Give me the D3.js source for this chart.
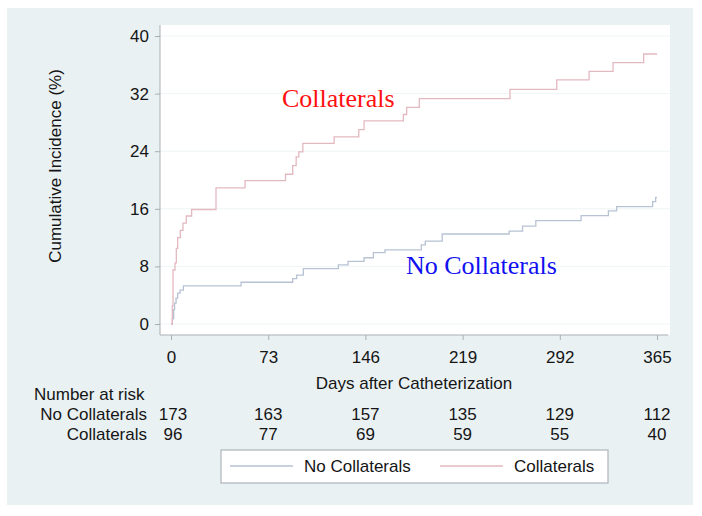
<!DOCTYPE html>
<html>
<head>
<meta charset="utf-8">
<script src="https://cdn.jsdelivr.net/npm/d3@7"></script>
<style>
  html, body { margin: 0; padding: 0; background: #ffffff; }
  svg { display: block; }
  text { font-family: "Liberation Sans", Arial, Helvetica, sans-serif; fill: #151515; }
</style>
</head>
<body>
<svg id="chart" width="702" height="516"></svg>
<script>
// ---- data ----
const xTicks = [0, 73, 146, 219, 292, 365];
const yTicks = [0, 8, 16, 24, 32, 40];

const collatDays = [0, 1, 1.5, 3, 4, 5, 7, 9, 11.5, 15.5, 33.8, 55.6, 86, 91.4, 94, 96, 99, 122.5, 141, 145, 174.5, 177, 186.5, 254.6, 289.7, 314, 332, 355, 365];
const collatVals = [0, 2.5, 7.5, 8.5, 10.5, 12, 13, 14, 15, 15.9, 18.9, 19.9, 20.8, 22, 23.2, 23.9, 25.1, 26.0, 27.0, 28.2, 29.1, 30.1, 31.3, 32.6, 33.9, 35.1, 36.3, 37.5, 37.5];

const noCollatDays = [0, 1, 2, 2.7, 3.8, 5, 6.8, 9.3, 52.6, 91.4, 94.4, 99.4, 125.7, 133, 145, 152, 160.7, 188, 191, 203.7, 254, 264, 274, 308, 328.5, 334.7, 361.7, 364, 365];
const noCollatVals = [0, 0.7, 2.0, 2.9, 3.6, 4.3, 4.7, 5.3, 5.8, 6.3, 6.8, 7.7, 8.2, 8.7, 9.2, 9.9, 10.3, 11.0, 11.5, 12.5, 12.9, 13.6, 14.35, 15.05, 15.7, 16.3, 17.0, 17.6, 17.6];

const riskGroups = ["No Collaterals", "Collaterals"];
const riskNoCollat = [173, 163, 157, 135, 129, 112];
const riskCollat = [96, 77, 69, 59, 55, 40];

const seriesNames = ["No Collaterals", "Collaterals"];
const seriesColors = ["#b7c2d3", "#e3b9c0"];
const labelColors = ["#1010f0", "#ff1010"];

// ---- layout ----
const FS = 17;
const svg = d3.select("#chart");
const plot = {left: 160, right: 670, top: 25, bottom: 335};
const x = d3.scaleLinear().domain([0, 365]).range([171, 657]);
const y = d3.scaleLinear().domain([0, 40]).range([324, 36]);

// background
svg.append("rect").attr("x", 7).attr("y", 8).attr("width", 686).attr("height", 497).attr("fill", "#eaf1f3");
svg.append("rect").attr("x", plot.left).attr("y", plot.top)
  .attr("width", plot.right - plot.left).attr("height", plot.bottom - plot.top).attr("fill", "#ffffff");

// gridlines
svg.append("g").selectAll("line").data(yTicks).join("line")
  .attr("x1", plot.left).attr("x2", plot.right)
  .attr("y1", d => y(d)).attr("y2", d => y(d))
  .attr("stroke", "#eff4f6").attr("stroke-width", 1);

// axes
const axisColor = "#a9afb5";
const yAxis = svg.append("g").attr("transform", `translate(${plot.left},0)`)
  .call(d3.axisLeft(y).tickValues(yTicks).tickSize(5).tickPadding(6));
yAxis.select(".domain").attr("d", `M0,${plot.top}V${plot.bottom}`).attr("stroke", axisColor);
yAxis.selectAll(".tick line").attr("stroke", axisColor);
yAxis.selectAll(".tick text").attr("font-size", FS).attr("fill", "#151515")
  .style("font-family", '"Liberation Sans", Arial, sans-serif');

const xAxis = svg.append("g").attr("transform", `translate(0,${plot.bottom})`)
  .call(d3.axisBottom(x).tickValues(xTicks).tickSize(5).tickPadding(11));
xAxis.select(".domain").attr("d", `M${plot.left},0H${plot.right - 2}`).attr("stroke", axisColor);
xAxis.selectAll(".tick line").attr("stroke", axisColor);
xAxis.selectAll(".tick text").attr("font-size", FS).attr("fill", "#151515")
  .style("font-family", '"Liberation Sans", Arial, sans-serif');

// axis titles
svg.append("text").attr("transform", "translate(61,166) rotate(-90)")
  .attr("text-anchor", "middle").attr("font-size", FS).text("Cumulative Incidence (%)");
svg.append("text").attr("x", 414).attr("y", 389)
  .attr("text-anchor", "middle").attr("font-size", FS).text("Days after Catheterization");

// curves
const line = d3.line().x(d => x(d[0])).y(d => y(d[1])).curve(d3.curveStepAfter);
const series = [
  d3.zip(noCollatDays, noCollatVals),
  d3.zip(collatDays, collatVals)
];
svg.append("g").selectAll("path").data(series).join("path")
  .attr("d", line).attr("fill", "none")
  .attr("stroke", (d, i) => seriesColors[i]).attr("stroke-width", 1.3);

// in-plot labels
svg.append("text").attr("x", 282).attr("y", 107)
  .attr("font-size", 26).style("font-family", '"Liberation Serif", "Times New Roman", serif')
  .style("fill", labelColors[1]).text("Collaterals");
svg.append("text").attr("x", 406).attr("y", 274)
  .attr("font-size", 26).style("font-family", '"Liberation Serif", "Times New Roman", serif')
  .style("fill", labelColors[0]).text("No Collaterals");

// number at risk table
svg.append("text").attr("x", 34).attr("y", 400).attr("font-size", FS).text("Number at risk");
const rows = [riskNoCollat, riskCollat];
const rowY = [420, 440];
rows.forEach((vals, r) => {
  svg.append("text").attr("x", 147).attr("y", rowY[r]).attr("text-anchor", "end")
    .attr("font-size", FS).text(riskGroups[r]);
  svg.append("g").selectAll("text").data(vals).join("text")
    .attr("x", (d, i) => x(xTicks[i]) + (i === 0 ? 2 : 0)).attr("y", rowY[r])
    .attr("text-anchor", "middle").attr("font-size", FS).text(d => d);
});

// legend
const lg = svg.append("g");
lg.append("rect").attr("x", 221).attr("y", 450).attr("width", 387).attr("height", 33)
  .attr("fill", "#ffffff").attr("stroke", "#aeb5bc").attr("stroke-width", 1.2);
const legX = [230, 440];
seriesNames.forEach((name, i) => {
  lg.append("line").attr("x1", legX[i]).attr("x2", legX[i] + 63)
    .attr("y1", 466).attr("y2", 466).attr("stroke", seriesColors[i]).attr("stroke-width", 1.3);
  lg.append("text").attr("x", legX[i] + 74).attr("y", 472).attr("font-size", FS).text(name);
});
</script>
</body>
</html>
